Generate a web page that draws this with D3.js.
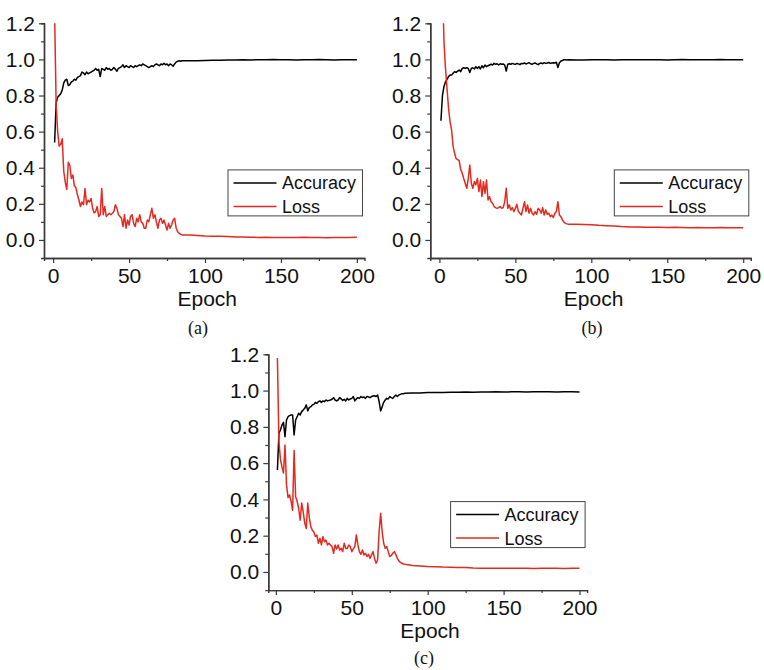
<!DOCTYPE html>
<html>
<head>
<meta charset="utf-8">
<script src="https://cdn.jsdelivr.net/npm/d3@7"></script>
<style>
  html, body { margin: 0; padding: 0; background: #fff; }
  svg { display: block; }
  text { font-family: "Liberation Sans", Arial, sans-serif; fill: #111; }
</style>
</head>
<body>
<div id="chart"></div>
<script>
// epochs: every epoch up to 85, then every 5 (flat part)
const epochs = [1,2,3,4,5,6,7,8,9,10,11,12,13,14,15,16,17,18,19,20,
  21,22,23,24,25,26,27,28,29,30,31,32,33,34,35,36,37,38,39,40,
  41,42,43,44,45,46,47,48,49,50,51,52,53,54,55,56,57,58,59,60,
  61,62,63,64,65,66,67,68,69,70,71,72,73,74,75,76,77,78,79,80,
  81,82,83,84,85,90,95,100,105,110,115,120,125,130,135,140,145,150,155,160,
  165,170,175,180,185,190,195,200];

const xTicks = [0, 50, 100, 150, 200];
const xMinor = [25, 75, 125, 175];
const yTicks = [0, 0.2, 0.4, 0.6, 0.8, 1.0, 1.2];
const yMinor = [0.1, 0.3, 0.5, 0.7, 0.9, 1.1];
const seriesNames = ['Accuracy', 'Loss'];
const captions = ['(a)', '(b)', '(c)'];

const accA = [0.54,0.76,0.79,0.80,0.81,0.83,0.87,0.885,0.89,0.855,
  0.86,0.875,0.88,0.89,0.885,0.90,0.905,0.91,0.93,0.925,
  0.915,0.93,0.92,0.925,0.93,0.935,0.94,0.95,0.94,0.945,
  0.905,0.95,0.945,0.94,0.955,0.945,0.95,0.94,0.945,0.955,
  0.945,0.935,0.95,0.955,0.96,0.97,0.955,0.965,0.96,0.955,
  0.965,0.96,0.955,0.965,0.96,0.965,0.97,0.965,0.975,0.97,
  0.965,0.96,0.955,0.96,0.965,0.96,0.97,0.975,0.97,0.965,
  0.975,0.97,0.978,0.97,0.975,0.965,0.975,0.97,0.962,0.975,
  0.985,0.99,0.992,0.99,0.993,
  0.992,0.993,0.994,0.995,0.996,0.997,0.997,0.998,0.997,0.998,0.998,0.999,
  0.998,0.998,0.997,0.998,0.998,0.999,0.998,0.997,0.998,0.998,0.998];
const lossA = [1.25,0.75,0.60,0.52,0.53,0.56,0.38,0.32,0.28,0.43,
  0.415,0.34,0.36,0.30,0.29,0.25,0.22,0.185,0.21,0.195,
  0.285,0.195,0.22,0.21,0.23,0.175,0.15,0.157,0.185,0.13,
  0.14,0.285,0.14,0.185,0.13,0.14,0.148,0.14,0.148,0.157,
  0.195,0.175,0.14,0.13,0.12,0.074,0.14,0.065,0.11,0.083,
  0.13,0.14,0.092,0.074,0.12,0.10,0.14,0.10,0.092,0.065,
  0.065,0.11,0.10,0.14,0.175,0.12,0.14,0.10,0.065,0.11,
  0.12,0.092,0.11,0.083,0.055,0.092,0.065,0.083,0.11,0.12,
  0.065,0.046,0.037,0.031,0.028,
  0.027,0.025,0.022,0.021,0.020,0.019,0.017,0.016,0.015,0.014,0.015,0.013,
  0.014,0.014,0.013,0.015,0.013,0.014,0.012,0.014,0.013,0.014,0.015];

const accB = [0.66,0.80,0.85,0.875,0.89,0.905,0.913,0.913,0.923,0.932,
  0.928,0.935,0.941,0.932,0.95,0.954,0.95,0.954,0.95,0.928,
  0.95,0.954,0.947,0.96,0.95,0.96,0.947,0.965,0.954,0.969,
  0.96,0.965,0.969,0.973,0.969,0.978,0.973,0.976,0.969,0.976,
  0.973,0.975,0.969,0.935,0.973,0.976,0.973,0.978,0.975,0.973,
  0.978,0.975,0.971,0.978,0.976,0.98,0.975,0.978,0.982,0.976,
  0.973,0.978,0.98,0.975,0.971,0.978,0.98,0.976,0.982,0.978,
  0.98,0.983,0.978,0.98,0.982,0.98,0.984,0.955,0.982,0.991,
  0.994,0.998,0.998,0.997,0.998,
  0.997,0.997,0.998,0.998,0.998,0.997,0.998,0.998,0.998,0.998,0.998,0.998,
  0.997,0.998,0.999,0.998,0.998,0.998,0.998,0.999,0.998,0.998,0.998];
const lossB = [1.9,1.42,1.10,0.95,0.84,0.73,0.655,0.61,0.52,0.48,
  0.45,0.445,0.44,0.39,0.37,0.34,0.314,0.286,0.341,0.415,
  0.314,0.286,0.323,0.305,0.341,0.268,0.332,0.24,0.323,0.258,
  0.332,0.221,0.24,0.212,0.203,0.185,0.179,0.175,0.179,0.185,
  0.175,0.179,0.212,0.286,0.175,0.194,0.166,0.179,0.157,0.175,
  0.197,0.157,0.148,0.138,0.175,0.212,0.157,0.194,0.148,0.175,
  0.148,0.138,0.157,0.142,0.175,0.166,0.148,0.179,0.138,0.166,
  0.142,0.148,0.129,0.138,0.124,0.148,0.157,0.212,0.138,0.129,
  0.111,0.098,0.092,0.089,0.087,
  0.087,0.086,0.084,0.081,0.079,0.077,0.074,0.072,0.072,0.071,0.070,0.070,
  0.069,0.070,0.069,0.068,0.069,0.068,0.068,0.069,0.068,0.068,0.067];

const accC = [0.562,0.764,0.783,0.81,0.825,0.746,0.838,0.856,0.862,0.866,
  0.866,0.755,0.838,0.856,0.875,0.866,0.884,0.893,0.902,0.921,
  0.888,0.906,0.911,0.921,0.924,0.935,0.93,0.939,0.943,0.935,
  0.943,0.939,0.948,0.943,0.946,0.948,0.952,0.961,0.948,0.943,
  0.948,0.961,0.954,0.946,0.952,0.943,0.957,0.948,0.954,0.957,
  0.967,0.943,0.954,0.961,0.957,0.967,0.961,0.965,0.957,0.968,
  0.965,0.961,0.967,0.97,0.972,0.967,0.976,0.939,0.888,0.911,
  0.935,0.948,0.957,0.954,0.967,0.961,0.957,0.967,0.976,0.967,
  0.976,0.979,0.983,0.983,0.985,
  0.986,0.987,0.989,0.990,0.990,0.991,0.991,0.992,0.991,0.992,0.992,0.993,
  0.992,0.993,0.993,0.992,0.993,0.993,0.993,0.992,0.993,0.993,0.992];
const lossC = [1.18,0.72,0.62,0.58,0.545,0.70,0.48,0.41,0.425,0.39,
  0.34,0.67,0.415,0.39,0.35,0.285,0.38,0.33,0.27,0.24,
  0.38,0.30,0.25,0.23,0.22,0.195,0.204,0.158,0.186,0.149,
  0.195,0.167,0.176,0.149,0.158,0.149,0.14,0.103,0.149,0.127,
  0.149,0.121,0.13,0.112,0.158,0.13,0.13,0.149,0.14,0.112,
  0.127,0.14,0.204,0.149,0.112,0.097,0.121,0.094,0.103,0.085,
  0.097,0.075,0.094,0.112,0.075,0.048,0.066,0.222,0.323,0.222,
  0.158,0.13,0.14,0.112,0.085,0.09,0.103,0.112,0.097,0.075,
  0.061,0.053,0.048,0.044,0.042,
  0.036,0.033,0.030,0.029,0.027,0.026,0.025,0.024,0.022,0.021,0.021,0.020,
  0.020,0.020,0.021,0.020,0.019,0.020,0.021,0.020,0.019,0.020,0.020];

const W = 764, H = 670;
const RED = '#e42a20', AXIS = '#3a3a3a';

const svg = d3.select('#chart').append('svg').attr('width', W).attr('height', H);
svg.append('rect').attr('width', W).attr('height', H).attr('fill', '#fff');

// panel layout (pixels)
const panels = [
  { id: 'a', xr: [44, 364.5], xd: [-6, 205], yr: [258, 23.3], capX: 198, capY: 334, acc: accA, loss: lossA },
  { id: 'b', xr: [430.3, 750.8], xd: [-6, 205], yr: [258, 23.3], capX: 592, capY: 334, acc: accB, loss: lossB },
  { id: 'c', xr: [268.3, 587.1], xd: [-5, 205], yr: [590.1, 354.3], capX: 424, capY: 664, acc: accC, loss: lossC },
];

panels.forEach((p, pi) => {
  const x = d3.scaleLinear().domain(p.xd).range(p.xr);
  const y = d3.scaleLinear().domain([-0.1, 1.2]).range(p.yr);
  const g = svg.append('g');

  g.append('clipPath').attr('id', 'clip-' + p.id).append('rect')
    .attr('x', p.xr[0]).attr('y', p.yr[1])
    .attr('width', p.xr[1] - p.xr[0]).attr('height', p.yr[0] - p.yr[1]);

  // minor ticks
  const gxm = g.append('g').attr('transform', `translate(0,${p.yr[0]})`)
    .call(d3.axisBottom(x).tickValues(xMinor).tickSize(3).tickFormat(''));
  const gym = g.append('g').attr('transform', `translate(${p.xr[0]},0)`)
    .call(d3.axisLeft(y).tickValues(yMinor).tickSize(3).tickFormat(''));
  // major axes
  const gx = g.append('g').attr('transform', `translate(0,${p.yr[0]})`)
    .call(d3.axisBottom(x).tickValues(xTicks).tickSizeInner(5).tickSizeOuter(0).tickPadding(5));
  const gy = g.append('g').attr('transform', `translate(${p.xr[0]},0)`)
    .call(d3.axisLeft(y).tickValues(yTicks).tickSizeInner(5).tickSizeOuter(0).tickPadding(4)
      .tickFormat(d3.format('.1f')));
  [gxm, gym, gx, gy].forEach(a => {
    a.selectAll('path.domain').attr('stroke', AXIS).attr('stroke-width', 1.4);
    a.selectAll('.tick line').attr('stroke', AXIS).attr('stroke-width', 1.2);
    a.selectAll('text').style('font-size', '21px').attr('fill', '#111')
      .style('font-family', '"Liberation Sans", Arial, sans-serif');
  });

  g.append('text').attr('x', x(101.5)).attr('y', p.yr[0] + 48)
    .attr('text-anchor', 'middle').style('font-size', '21px').text('Epoch');

  g.append('text').attr('x', p.capX).attr('y', p.capY)
    .attr('text-anchor', 'middle')
    .style('font-family', '"Liberation Serif", "Times New Roman", serif')
    .style('font-size', '18px').text(captions[pi]);

  // curves
  const line = d3.line().x(d => x(d[0])).y(d => y(d[1]));
  const plot = g.append('g').attr('clip-path', `url(#clip-${p.id})`);
  plot.append('path').datum(d3.zip(epochs, p.acc))
    .attr('d', line).attr('fill', 'none').attr('stroke', '#000')
    .attr('stroke-width', 1.5).attr('stroke-linejoin', 'round');
  plot.append('path').datum(d3.zip(epochs, p.loss))
    .attr('d', line).attr('fill', 'none').attr('stroke', RED)
    .attr('stroke-width', 1.5).attr('stroke-linejoin', 'round');

  // legend
  const lw = 134.5, lh = 46;
  const lx = p.xr[1] - 2 - lw, ly = y(0.388);
  const lg = g.append('g').attr('transform', `translate(${lx},${ly})`);
  lg.append('rect').attr('width', lw).attr('height', lh)
    .attr('fill', '#fff').attr('stroke', '#444').attr('stroke-width', 1);
  [['#000', 13], [RED, 36.5]].forEach(([c, ry], i) => {
    lg.append('line').attr('x1', 5.5).attr('x2', 48.5).attr('y1', ry).attr('y2', ry)
      .attr('stroke', c).attr('stroke-width', 1.5);
    lg.append('text').attr('x', 54).attr('y', ry + 6.5)
      .style('font-size', '18px').text(seriesNames[i]);
  });
});
</script>
</body>
</html>
